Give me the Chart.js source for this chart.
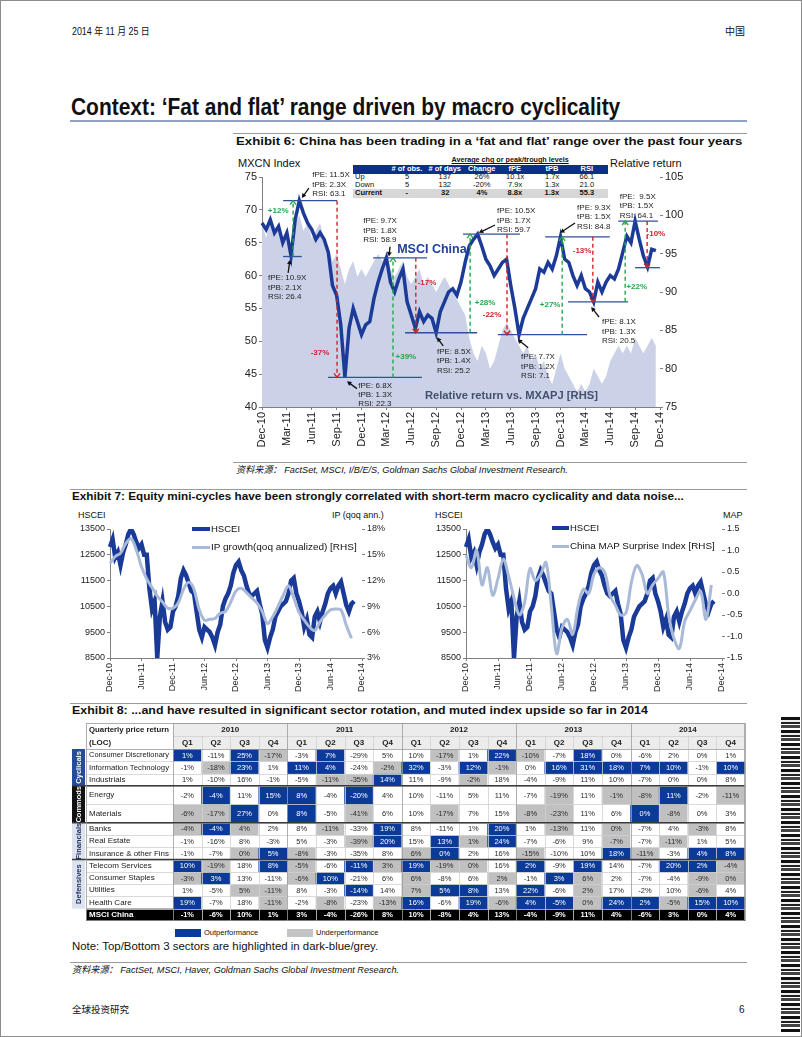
<!DOCTYPE html>
<html><head><meta charset="utf-8"><title>China fat and flat</title>
<script src="https://cdn.jsdelivr.net/npm/chart.js@4/dist/chart.umd.min.js"></script>
<style>
html,body{margin:0;padding:0;background:#fff;}
#page{position:relative;width:802px;height:1037px;overflow:hidden;background:#fff;font-family:"Liberation Sans",Arial,"Noto Sans CJK SC",sans-serif;color:#111;}
#frame{position:absolute;left:0;top:0;width:802px;height:1037px;box-sizing:border-box;border:1px solid #8c8c8c;pointer-events:none;}
.t{position:absolute;white-space:nowrap;line-height:1;transform-origin:0 50%;}
.rule{position:absolute;}
canvas{position:absolute;}
#code{position:absolute;left:781px;top:716px;width:19px;height:316px;
 background:repeating-linear-gradient(0deg,#111 0 3px,#fff 3px 5px,#444 5px 8px,#fff 8px 9px,#222 9px 11px,#eee 11px 13px);}
</style></head>
<body><div id="page"><div id="frame"></div><div id="code"></div></div>
<script>
// ====================== DATA ======================
// Exhibit 6 (semi-monthly points, Dec-10 .. Dec-14)
const ex6TickLabels = ['Dec-10','Mar-11','Jun-11','Sep-11','Dec-11','Mar-12','Jun-12','Sep-12','Dec-12','Mar-13','Jun-13','Sep-13','Dec-13','Mar-14','Jun-14','Sep-14','Dec-14'];
const mxcnIndex = [
 68.0,67.0,68.5,66.5,67.5,65.0,66.5,63.0,68.5,71.4,
 69.5,68.0,67.0,65.5,66.5,65.5,63.5,58.5,57.0,52.5,
 44.5,52.0,55.0,53.0,51.0,52.5,53.0,56.5,59.0,61.0,
 62.7,59.0,57.5,59.5,61.0,56.0,54.0,52.0,54.5,53.0,
 54.0,53.5,51.3,54.5,56.0,57.5,58.0,57.0,59.0,62.0,
 64.5,65.5,66.3,64.5,62.5,61.5,60.0,61.0,62.0,62.5,
 58.5,55.0,51.0,53.5,55.0,56.5,58.0,61.0,60.5,62.0,
 61.0,63.0,65.9,62.5,62.0,60.0,58.5,60.0,58.0,57.5,
 56.0,59.0,57.5,59.0,60.0,59.5,61.0,63.5,66.0,65.0,
 68.3,65.5,63.0,61.3,64.0,63.8,null];
const relReturnMXAPJ = [
 99,97,100,98,99,96,98,95,99,100,
 98,99,97,98,99,97,96,94,95,93,
 91,93,94,92,93,92,93,94,95,94,
 95,93,92,93,94,92,91,92,93,91,
 92,91,90,91,92,91,90,89,88,87,
 84,82,81,83,82,80,81,83,85,86,
 85,84,83,82,83,81,82,80,81,79,
 78,80,82,80,79,78,77,78,77,78,
 80,79,78,79,81,82,83,82,83,82,
 84,83,82,83,84,83,null];
const insetCols = ['# of obs.','# of days','Change','fPE','tPB','RSI'];
const insetRowLabels = ['Up','Down','Current'];
const insetUp = ['5','137','26%','10.1x','1.7x','66.1'];
const insetDown = ['5','132','-20%','7.9x','1.3x','21.0'];
const insetCurrent = ['-','32','4%','8.8x','1.3x','55.3'];

// Exhibit 7 (HSCEI semi-monthly, macro series monthly)
const ex7TickLabels = ['Dec-10','Jun-11','Dec-11','Jun-12','Dec-12','Jun-13','Dec-13','Jun-14','Dec-14'];
const hsceiIndex = [
 12800,13100,12400,12600,12100,12600,12900,13300,13500,13300,
 13000,12750,12900,12500,12500,11200,10400,10700,8500,10100,
 10700,9900,9600,9700,10300,10500,10900,11600,11900,11700,
 11400,11100,11000,10300,9600,9300,9700,9600,9500,9300,
 9000,9500,9800,10500,10800,11000,11300,11800,12100,12230,
 11900,11700,11300,11000,10900,11000,11100,10600,10200,9200,
 8900,9300,9600,10100,10300,10500,10600,10700,11000,11500,
 11600,11000,10700,10300,9700,10000,9400,9300,10100,10300,
 9900,10300,10600,11000,11200,11300,11000,11300,11450,11000,
 10550,10300,10600,10700,null,null,null];
const ipGrowthMonthly = [
 14.0,14.8,15.2,16.3,16.9,15.6,13.6,12.2,11.2,10.2,
 9.5,8.8,8.8,9.4,11.0,11.8,11.0,8.6,7.4,7.5,
 7.6,8.2,8.4,9.5,10.8,11.1,10.6,10.0,9.4,8.4,
 7.0,7.8,9.0,10.3,11.4,10.0,8.3,7.4,6.6,6.2,
 7.2,8.0,8.6,8.7,8.6,6.8,5.3];
const mapSurpriseMonthly = [
 0.89,0.6,1.0,0.2,0.6,-0.04,0.35,0.8,0.4,-0.1,
 -0.5,-0.2,0.58,0.3,0.45,0.72,-0.3,-1.4,-0.8,-0.6,
 -0.95,-0.3,0.1,0.0,0.45,0.6,0.5,-0.05,-0.27,-0.5,
 -0.45,0.25,0.65,0.45,0.0,0.2,0.35,0.5,-0.5,-1.05,
 -1.28,-0.65,-0.4,-0.15,0.05,-0.6,0.2];

// Exhibit 8 table
const tableYears = ['2010','2011','2012','2013','2014'];
const tableQuarters = ['Q1','Q2','Q3','Q4'];
const sectorNames = ['Consumer Discretionary','Information Technology','Industrials','Energy','Materials','Banks','Real Estate','Insurance & other Fins','Telecom Services','Consumer Staples','Utilities','Health Care','MSCI China'];
const retConsDisc  = [1,-11,25,-17,-3,7,-29,5,10,-17,1,22,-10,-7,18,0,-6,2,0,1];
const retInfoTech  = [-1,-18,23,1,11,4,-24,-2,32,-3,12,-1,0,16,31,18,7,10,-1,10];
const retIndustr   = [1,-10,16,-1,-5,-11,-35,14,11,-9,-2,18,-4,-9,11,10,-7,0,0,8];
const retEnergy    = [-2,-4,11,15,8,-4,-20,4,10,-11,5,11,-7,-19,11,-1,-8,11,-2,-11];
const retMaterials = [-6,-17,27,0,8,-5,-41,6,10,-17,7,15,-8,-23,11,6,0,-8,0,3];
const retBanks     = [-4,-4,4,2,8,-11,-33,19,8,-11,1,20,1,-13,11,0,-7,4,-3,8];
const retRealEst   = [-1,-16,8,-3,5,-3,-39,20,15,13,1,24,-7,-6,9,-7,-7,-11,1,5];
const retInsurance = [-1,-7,0,5,-8,-3,-35,8,6,0,2,16,-15,-10,10,18,-11,-3,4,8];
const retTelecom   = [10,-19,18,8,-5,-6,-11,3,19,-19,0,16,2,-9,19,14,-7,20,2,-4];
const retStaples   = [-3,3,13,-11,-6,10,-21,6,6,-8,6,2,-1,3,6,2,-7,-4,-9,0];
const retUtilities = [1,-5,5,-11,8,-3,-14,14,7,5,8,13,22,-6,2,17,-2,10,-6,4];
const retHealth    = [19,-7,18,-11,-2,-8,-23,-13,16,-6,19,-6,4,-5,0,24,2,-5,15,10];
const retMSCIChina = [-1,-6,10,1,3,-4,-26,8,10,-8,4,13,-4,-9,11,4,-6,3,0,4];
// B = top-3 (dark blue), G = bottom-3 (grey), . = none
const hlConsDisc  = 'B.BG.B...G.BG.B.....';
const hlInfoTech  = '.GB.BB.GB.BG.BBBBB.B';
const hlIndustr   = '.....GGB..G.........';
const hlEnergy    = '.B.BB.B......G.GGB.G';
const hlMaterials = 'GGB.B.G..G..GG..BG..';
const hlBanks     = 'GBG..G.B...B.G.G..G.';
const hlRealEst   = '......GB.BGB...G.G..';
const hlInsurance = '..GBG...GB..G..BG.BB';
const hlTelecom   = 'BG.BG.BGBGG.B.B..BBG';
const hlStaples   = 'GB..GB..G..G.BG...GG';
const hlUtilities = '..GG..B.GBB.B.G...G.';
const hlHealth    = 'B..G.G.GB.BGBBGBBGBB';
const hlMSCIChina = 'KKKKKKKKKKKKKKKKKKKK';

// ====================== PAGE TEXT ======================
const page = document.getElementById('page');
const FONT = '"Liberation Sans", Arial, "Noto Sans CJK SC", sans-serif';
function addText(txt, x, cy, size, o = {}) {
  const d = document.createElement('div');
  d.className = 't'; d.textContent = txt;
  d.style.left = x + 'px'; d.style.top = (cy - size / 2) + 'px'; d.style.fontSize = size + 'px';
  if (o.bold) d.style.fontWeight = 'bold';
  if (o.italic) d.style.fontStyle = 'italic';
  if (o.color) d.style.color = o.color;
  if (o.underline) d.style.textDecoration = 'underline';
  page.appendChild(d);
  const w = d.offsetWidth;
  if (o.center) d.style.left = (x - w / 2) + 'px';
  if (o.right) d.style.left = (x - w) + 'px';
  if (o.fitW && w > 0) d.style.transform = 'scaleX(' + (o.fitW / w) + ')';
  return d;
}
function addRect(x, y, w, h, color) {
  const d = document.createElement('div');
  d.className = 'rule';
  Object.assign(d.style, { left: x + 'px', top: y + 'px', width: w + 'px', height: h + 'px', background: color });
  page.appendChild(d); return d;
}
function addCanvas(x, y, w, h) {
  const c = document.createElement('canvas');
  c.width = w; c.height = h; c.style.left = x + 'px'; c.style.top = y + 'px';
  c.style.width = w + 'px'; c.style.height = h + 'px';
  page.appendChild(c); return c;
}

addText('2014 年 11 月 25 日', 72, 32, 10, { fitW: 78 });
addText('中国', 725, 32, 10);
addText('Context: \u2018Fat and flat\u2019 range driven by macro cyclicality', 71, 107, 23, { bold: true, fitW: 549 });
addRect(70, 120, 677, 1.5, '#8fa1bf');

addRect(233, 133, 514, 1, '#9a9a9a');
addText('Exhibit 6: China has been trading in a \u2018fat and flat\u2019 range over the past four years', 236, 142, 11.5, { bold: true, fitW: 506 });
addText('MXCN Index', 238, 163, 11);
addText('Relative return', 610, 163, 11);

// inset summary table
addText('Average chg or peak/trough levels', 510, 160, 7.2, { bold: true, underline: true, center: true });
addRect(353, 164.5, 255, 9, '#0c2f8e');
addRect(353, 188.5, 255, 9, '#d7d7d7');
const insetX = [407, 445, 482, 515, 552, 587];
insetCols.forEach((h, k) => addText(h, insetX[k], 169, 7.5, { bold: true, color: '#fff', center: true }));
[insetUp, insetDown, insetCurrent].forEach((row, r) => {
  const cy = [177, 185, 193][r];
  addText(insetRowLabels[r], 355, cy, 7.5, { bold: r === 2 });
  row.forEach((v, k) => addText(v, insetX[k], cy, 7.5, { bold: r === 2, center: true }));
});

addRect(233, 462, 514, 1, '#9a9a9a');
addText('资料来源： FactSet, MSCI, I/B/E/S, Goldman Sachs Global Investment Research.', 236, 470, 9.5, { italic: true, fitW: 332 });

addRect(70, 489, 677, 1, '#9a9a9a');
addText('Exhibit 7: Equity mini-cycles have been strongly correlated with short-term macro cyclicality and data noise...', 72, 497, 11.5, { bold: true, fitW: 612 });
addText('HSCEI', 78, 515, 9);
addText('IP (qoq ann.)', 332, 515, 9);
addText('HSCEI', 435, 515, 9);
addText('MAP', 723, 515, 9);

addRect(70, 703, 677, 1, '#9a9a9a');
addText('Exhibit 8: ...and have resulted in significant sector rotation, and muted index upside so far in 2014', 72, 711, 11.5, { bold: true, fitW: 576 });

addRect(175, 929, 26, 8, '#0b3a98');
addText('Outperformance', 204, 933, 7.5);
addRect(287, 929, 26, 8, '#c4c4c4');
addText('Underperformance', 316, 933, 7.5);
addText('Note: Top/Bottom 3 sectors are highlighted in dark-blue/grey.', 72, 947, 10, { fitW: 306 });
addRect(70, 962, 677, 1, '#9a9a9a');
addText('资料来源： FactSet, MSCI, Haver, Goldman Sachs Global Investment Research.', 72, 970, 9.5, { italic: true, fitW: 327 });
addText('全球投资研究', 72, 1010, 9.5);
addText('6', 739, 1010, 10);

// ====================== CHARTS ======================
Chart.defaults.font.family = FONT;
Chart.defaults.color = '#222';
const AX = '#808080';

function catLabels(n, every, ticks) {
  const out = [];
  for (let i = 0; i < n; i++) out.push(i % every === 0 ? ticks[i / every] : '');
  return out;
}
function xAxis(every, ticks, height, size) {
  return {
    type: 'category', offset: false,
    afterFit(s) { s.height = height; },
    afterBuildTicks(s) { s.ticks = s.ticks.filter(t => t.value % every === 0); },
    ticks: { autoSkip: false, minRotation: 90, maxRotation: 90, font: { size }, color: '#222', padding: 2,
      callback(v) { return ticks[v / every]; } },
    grid: { display: true, drawOnChartArea: false, drawTicks: true, tickLength: 3, color: AX },
    border: { display: true, color: AX }
  };
}
function yAxis(pos, min, max, step, width, size, cb, showBorder) {
  return {
    position: pos, min, max,
    afterFit(s) { s.width = width; },
    ticks: { stepSize: step, font: { size }, color: '#222', padding: 2, callback: cb || (v => v) },
    grid: { display: true, drawOnChartArea: false, tickLength: 3, color: AX },
    border: { display: showBorder, color: AX }
  };
}

// ---------- Exhibit 6 annotations ----------
const ex6Levels = [
 {v:62.9,a:5.1,b:9.6},{v:71.4,a:5.1,b:18.1},{v:44.5,a:15.9,b:38.6},{v:62.7,a:26.8,b:39.8},
 {v:51.3,a:34.5,b:51.9},{v:66.3,a:48.5,b:62.2},{v:51.0,a:56.9,b:78.4},{v:65.9,a:68.3,b:83.9},
 {v:56.0,a:73.8,b:88.3},{v:68.3,a:85.9,b:95.5},{v:61.2,a:90,b:96}];
const ex6Moves = [
 {i:7.5,from:62.9,to:71.4,txt:'+12%',ti:3.9,tv:69.8},
 {i:18.1,from:71.4,to:44.5,txt:'-37%',ti:14,tv:48.2},
 {i:31.6,from:44.5,to:62.7,txt:'+39%',ti:34.7,tv:47.6},
 {i:37.1,from:62.7,to:51.3,txt:'-17%',ti:39.8,tv:58.9},
 {i:50.2,from:51.3,to:66.3,txt:'+28%',ti:53.8,tv:55.8},
 {i:59.1,from:66.3,to:51.0,txt:'-22%',ti:55.5,tv:54.0},
 {i:72.4,from:51.0,to:65.9,txt:'+27%',ti:69.5,tv:55.5},
 {i:79.8,from:65.9,to:56.0,txt:'-13%',ti:77.2,tv:63.7},
 {i:87.6,from:56.0,to:68.3,txt:'+22%',ti:90.4,tv:58.3},
 {i:92.9,from:68.3,to:61.2,txt:'-10%',ti:95,tv:66.3}];
const ex6Notes = [
 {lines:['fPE: 11.5X','tPB: 2.3X','RSI: 63.1'], i:12.1, v:75.3, arrow:[11.3,73.3,9.6,71.8]},
 {lines:['fPE: 10.9X','tPB: 2.1X','RSI: 26.4'], i:1.45, v:59.6, arrow:[6.3,60.4,6.75,62.4]},
 {lines:['fPE: 9.7X','tPB: 1.8X','RSI: 58.9'], i:24.4, v:68.3, arrow:[30.9,64.4,30.6,62.9]},
 {lines:['fPE: 10.5X','tPB: 1.7X','RSI: 59.7'], i:56.7, v:69.8, arrow:[56.2,67.7,52.3,66.5]},
 {lines:['fPE: 9.3X','tPB: 1.5X','RSI: 84.8'], i:76, v:70.3, arrow:[75.5,68,71.9,66.5]},
 {lines:['fPE:  9.5X','tPB: 1.5X','RSI: 64.1'], i:86.3, v:72, arrow:null},
 {lines:['fPE: 6.8X','tPB: 1.3X','RSI: 22.3'], i:23.2, v:43.3, arrow:[22.9,42.8,20.5,43.9]},
 {lines:['fPE: 8.5X','tPB: 1.4X','RSI: 25.2'], i:42.2, v:48.4, arrow:[43.7,49.3,42.2,50.6]},
 {lines:['fPE: 7.7X','tPB: 1.2X','RSI: 7.1'], i:62.5, v:47.6, arrow:[64.2,49,61.7,50.3]},
 {lines:['fPE: 8.1X','tPB: 1.3X','RSI: 20.5'], i:82, v:52.9, arrow:[81.3,53.7,79.4,55.2]}];

function solidArrow(ctx, x0, y0, x1, y1) {
  const ang = Math.atan2(y1 - y0, x1 - x0), L = 5;
  ctx.strokeStyle = '#111'; ctx.fillStyle = '#111'; ctx.lineWidth = 1.3;
  ctx.beginPath(); ctx.moveTo(x0, y0); ctx.lineTo(x1 - Math.cos(ang) * 3, y1 - Math.sin(ang) * 3); ctx.stroke();
  ctx.beginPath(); ctx.moveTo(x1, y1);
  ctx.lineTo(x1 - L * Math.cos(ang - 0.5), y1 - L * Math.sin(ang - 0.5));
  ctx.lineTo(x1 - L * Math.cos(ang + 0.5), y1 - L * Math.sin(ang + 0.5));
  ctx.closePath(); ctx.fill();
}
const ex6Annot = {
  id: 'ex6Annot',
  afterDatasetsDraw(chart) {
    const { ctx, scales: { x, y } } = chart;
    const px = i => x.getPixelForValue(i), py = v => y.getPixelForValue(v);
    ctx.save();
    ctx.strokeStyle = '#2f4f9f'; ctx.lineWidth = 1.3;
    ex6Levels.forEach(l => { ctx.beginPath(); ctx.moveTo(px(l.a), py(l.v)); ctx.lineTo(px(l.b), py(l.v)); ctx.stroke(); });
    ex6Moves.forEach(m => {
      const up = m.to > m.from, col = up ? '#25a84c' : '#d2232a';
      const X = px(m.i), y0 = py(m.from), y1 = py(m.to);
      ctx.strokeStyle = col; ctx.lineWidth = 1.4; ctx.setLineDash([4, 3]);
      ctx.beginPath(); ctx.moveTo(X, y0); ctx.lineTo(X, y1); ctx.stroke();
      ctx.setLineDash([]);
      const d = up ? 4 : -4;
      ctx.beginPath(); ctx.moveTo(X - 3, y1 + d); ctx.lineTo(X, y1); ctx.lineTo(X + 3, y1 + d); ctx.stroke();
      ctx.fillStyle = col; ctx.font = 'bold 8px ' + FONT; ctx.textAlign = 'center'; ctx.textBaseline = 'middle';
      ctx.fillText(m.txt, px(m.ti), py(m.tv));
    });
    ctx.font = '8px ' + FONT; ctx.textAlign = 'left'; ctx.textBaseline = 'middle';
    ex6Notes.forEach(n => {
      ctx.fillStyle = '#222';
      n.lines.forEach((ln, k) => ctx.fillText(ln, px(n.i), py(n.v) + k * 9.3));
      if (n.arrow) solidArrow(ctx, px(n.arrow[0]), py(n.arrow[1]), px(n.arrow[2]), py(n.arrow[3]));
    });
    ctx.fillStyle = '#1f40a0'; ctx.font = 'bold 12.5px ' + FONT;
    ctx.fillText('MSCI China', px(32.6), py(63.9));
    const rt = 'Relative return vs. MXAPJ [RHS]';
    ctx.font = 'bold 11px ' + FONT; ctx.fillStyle = '#44506e';
    const w = ctx.measureText(rt).width, X0 = px(39.3), Y0 = py(41.7);
    ctx.translate(X0, Y0); ctx.scale(173 / w, 1); ctx.fillText(rt, 0, 0);
    ctx.restore();
  }
};

new Chart(addCanvas(230, 155, 470, 310), {
  type: 'line',
  data: {
    labels: catLabels(mxcnIndex.length, 6, ex6TickLabels),
    datasets: [
      { label: 'MSCI China', data: mxcnIndex, yAxisID: 'y', borderColor: '#1c3b98', borderWidth: 3.5, pointRadius: 0, tension: 0, order: 1 },
      { label: 'Relative return vs. MXAPJ [RHS]', data: relReturnMXAPJ, yAxisID: 'y2', borderWidth: 0, borderColor: 'rgba(0,0,0,0)',
        backgroundColor: '#cbd2e7', fill: 'start', pointRadius: 0, tension: 0, order: 2 }
    ]
  },
  options: {
    responsive: false, animation: false, devicePixelRatio: 1,
    layout: { padding: { top: 22, left: 0, right: 0, bottom: 0 } },
    plugins: { legend: { display: false }, tooltip: { enabled: false } },
    scales: {
      x: xAxis(6, ex6TickLabels, 58, 11),
      y: yAxis('left', 40, 75, 5, 32, 11, null, true),
      y2: yAxis('right', 75, 105, 5, 40, 11, null, false)
    }
  },
  plugins: [ex6Annot]
});

// ---------- Exhibit 7 ----------
function toSemiMonthly(monthly, n) {
  const out = new Array(n).fill(null);
  monthly.forEach((v, m) => { out[m * 2] = v; });
  return out;
}
function ex7Chart(x, macro, macroLabel, y2cfg, leftW, rightW) {
  return new Chart(addCanvas(x, 515, 345, 190), {
    type: 'line',
    data: {
      labels: catLabels(hsceiIndex.length, 12, ex7TickLabels),
      datasets: [
        { label: 'HSCEI', data: hsceiIndex, yAxisID: 'y', borderColor: '#1a3a98', borderWidth: 4.5, pointRadius: 0, tension: 0, order: 2 },
        { label: macroLabel, data: toSemiMonthly(macro, hsceiIndex.length), yAxisID: 'y2', borderColor: '#a9bad8',
          borderWidth: 3, pointRadius: 0, tension: 0.35, spanGaps: true, order: 1 }
      ]
    },
    options: {
      responsive: false, animation: false, devicePixelRatio: 1,
      layout: { padding: { top: 14, left: 0, right: 0, bottom: 0 } },
      plugins: { legend: { display: false }, tooltip: { enabled: false } },
      scales: {
        x: xAxis(12, ex7TickLabels, 47, 9),
        y: yAxis('left', 8500, 13500, 1000, leftW, 9, null, true),
        y2: yAxis('right', y2cfg.min, y2cfg.max, y2cfg.step, rightW, 9, y2cfg.cb, false)
      }
    }
  });
}
ex7Chart(60, ipGrowthMonthly, 'IP growth(qoq annualized) [RHS]', { min: 3, max: 18, step: 3, cb: v => v + '%' }, 50, 43);
ex7Chart(415, mapSurpriseMonthly, 'China MAP Surprise Index [RHS]', { min: -1.5, max: 1.5, step: 0.5, cb: v => v.toFixed(1) }, 51, 38);
// legends
addRect(192, 527, 18, 4, '#1a3a98'); addText('HSCEI', 211, 529, 9.5);
addRect(192, 545.5, 18, 3, '#a9bad8'); addText('IP growth(qoq annualized) [RHS]', 211, 547, 9.5, { fitW: 146 });
addRect(552, 526, 17, 4, '#1a3a98'); addText('HSCEI', 570, 528, 9.5);
addRect(552, 544.5, 17, 3, '#a9bad8'); addText('China MAP Surprise Index [RHS]', 570, 546, 9.5, { fitW: 145 });

// ---------- Exhibit 8 table ----------
const tableRet = [retConsDisc, retInfoTech, retIndustr, retEnergy, retMaterials, retBanks, retRealEst, retInsurance, retTelecom, retStaples, retUtilities, retHealth, retMSCIChina];
const tableHl = [hlConsDisc, hlInfoTech, hlIndustr, hlEnergy, hlMaterials, hlBanks, hlRealEst, hlInsurance, hlTelecom, hlStaples, hlUtilities, hlHealth, hlMSCIChina];
const rowSlots = [2, 2, 2, 3, 3, 2, 2, 2, 2, 2, 2, 2, 2];
const rowTop = [], rowBot = [];
rowSlots.reduce((acc, s) => { rowTop.push(acc); rowBot.push(acc + s); return acc + s; }, 0);
const totalSlots = rowBot[rowBot.length - 1];
const colLabels = [];
tableYears.forEach(y => tableQuarters.forEach(q => colLabels.push(y + ' ' + q)));
const cellColor = { B: '#0b3a98', G: '#c0c0c0', K: '#000000', '.': '#ffffff' };
const groups = [
  { name: 'Cyclicals', a: 0, b: 3, bg: '#264a9c', fg: '#ffffff' },
  { name: 'Commods', a: 3, b: 5, bg: '#111111', fg: '#ffffff' },
  { name: 'Financials', a: 5, b: 8, bg: '#dde3ee', fg: '#1d2f60' },
  { name: 'Defensives', a: 8, b: 12, bg: '#dde3ee', fg: '#1d2f60' }];

function fitFill(ctx, txt, x, y, maxW) {
  const w = ctx.measureText(txt).width;
  if (w <= maxW) { ctx.fillText(txt, x, y); return; }
  ctx.save(); ctx.translate(x, y); ctx.scale(maxW / w, 1); ctx.fillText(txt, 0, 0); ctx.restore();
}

const tableDeco = {
  id: 'tableDeco',
  afterDatasetsDraw(chart) {
    const { ctx, chartArea: ca, scales: { x, y } } = chart;
    const n = colLabels.length, cw = ca.width / n;
    const colL = c => x.getPixelForValue(Math.min(c, n - 1)) - cw / 2 + (c >= n ? cw : 0);
    const yT = r => y.getPixelForValue(rowTop[r]), yB = r => y.getPixelForValue(rowBot[r]);
    const nameL = 16, grpL = 2, hTop = ca.top - 26, hMid = ca.top - 13;
    const line = (x0, y0, x1, y1) => { ctx.beginPath(); ctx.moveTo(x0, y0); ctx.lineTo(x1, y1); ctx.stroke(); };
    ctx.save();
    ctx.fillStyle = '#ececec'; ctx.fillRect(ca.left, hTop, ca.width, 26);
    const last = sectorNames.length - 1;
    ctx.fillStyle = '#000'; ctx.fillRect(nameL, yT(last), ca.left - nameL, yB(last) - yT(last));
    groups.forEach(g => {
      const t = yT(g.a), b = yB(g.b - 1);
      ctx.fillStyle = g.bg; ctx.fillRect(grpL, t, nameL - grpL - 1, b - t);
      ctx.save(); ctx.translate((grpL + nameL - 1) / 2, (t + b) / 2); ctx.rotate(-Math.PI / 2);
      ctx.fillStyle = g.fg; ctx.font = 'bold 7.5px ' + FONT; ctx.textAlign = 'center'; ctx.textBaseline = 'middle';
      ctx.fillText(g.name, 0, 0.5); ctx.restore();
    });
    ctx.lineWidth = 0.8; ctx.strokeStyle = '#d0d0d0';
    for (let c = 1; c < n; c++) { if (c % 4 === 0) continue; const X = Math.round(colL(c)) + 0.5; line(X, hMid, X, ca.bottom); }
    for (let r = 1; r < sectorNames.length; r++) { const Y = Math.round(yT(r)) + 0.5; line(nameL, Y, ca.right, Y); }
    line(ca.left, hMid + 0.5, ca.right, hMid + 0.5);
    ctx.strokeStyle = '#9c9c9c';
    for (let c = 0; c <= n; c += 4) { const X = Math.round(colL(c)) + 0.5; line(X, hTop, X, ca.bottom); }
    line(ca.left, hTop + 0.5, ca.right, hTop + 0.5);
    line(nameL, ca.top + 0.5, ca.right, ca.top + 0.5);
    ctx.strokeStyle = '#3a3a3a'; ctx.lineWidth = 1.5;
    [3, 5, 8].forEach(r => { const Y = yT(r); line(grpL, Y, ca.right, Y); });
    ctx.lineWidth = 0.8; ctx.strokeStyle = '#9c9c9c';
    ctx.strokeRect(nameL + 0.5, hTop + 0.5, ca.right - nameL - 1, ca.bottom - hTop - 1);
    // header text
    ctx.fillStyle = '#1a1a1a'; ctx.font = 'bold 8px ' + FONT; ctx.textBaseline = 'middle';
    ctx.textAlign = 'left';
    fitFill(ctx, 'Quarterly price return', nameL + 3, hTop + 6.5, 80);
    ctx.fillText('(LOC)', nameL + 3, hMid + 6.5);
    ctx.textAlign = 'center';
    tableYears.forEach((yr, k) => ctx.fillText(yr, (colL(k * 4) + colL(k * 4 + 4)) / 2, hTop + 6.5));
    colLabels.forEach((lab, c) => ctx.fillText(tableQuarters[c % 4], x.getPixelForValue(c), hMid + 6.5));
    // sector names
    ctx.textAlign = 'left';
    sectorNames.forEach((s, r) => {
      const isLast = r === last;
      ctx.fillStyle = isLast ? '#fff' : '#1a1a1a';
      ctx.font = (isLast ? 'bold ' : '') + '8px ' + FONT;
      fitFill(ctx, s, nameL + 3, (yT(r) + yB(r)) / 2, 80);
    });
    // cell values
    ctx.textAlign = 'center';
    tableRet.forEach((vals, r) => {
      const meta = chart.getDatasetMeta(r);
      meta.data.forEach((el, c) => {
        const code = tableHl[r][c];
        ctx.fillStyle = (code === 'B' || code === 'K') ? '#ffffff' : '#2a2a2a';
        ctx.font = (code === 'K' ? 'bold ' : '') + '7.5px ' + FONT;
        ctx.fillText(vals[c] + '%', el.x, (el.y + el.base) / 2 + 0.5);
      });
    });
    ctx.restore();
  }
};

new Chart(addCanvas(70, 720, 678, 204), {
  type: 'bar',
  data: {
    labels: colLabels,
    datasets: tableRet.map((vals, r) => ({
      label: sectorNames[r],
      data: vals.map(() => [rowTop[r], rowBot[r]]),
      backgroundColor: vals.map((v, c) => cellColor[tableHl[r][c]]),
      borderWidth: 0, barPercentage: 1, categoryPercentage: 1, grouped: false
    }))
  },
  options: {
    responsive: false, animation: false, devicePixelRatio: 1,
    layout: { padding: { left: 103, right: 3, top: 29, bottom: 3 } },
    plugins: { legend: { display: false }, tooltip: { enabled: false } },
    scales: {
      x: { type: 'category', offset: true, display: false },
      y: { type: 'linear', min: 0, max: totalSlots, reverse: true, display: false }
    }
  },
  plugins: [tableDeco]
});
</script>
</body></html>
